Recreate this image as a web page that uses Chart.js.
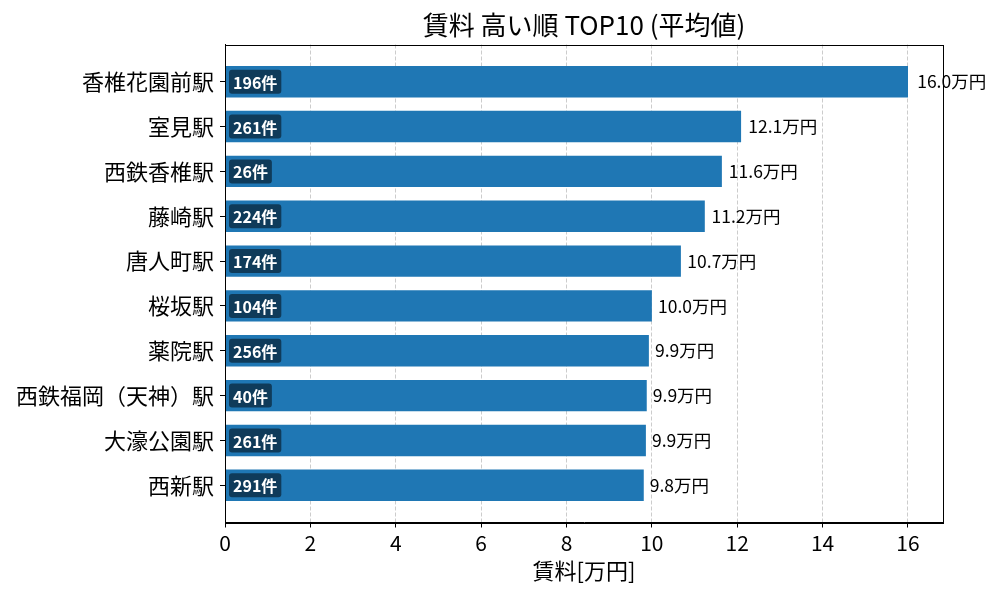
<!DOCTYPE html>
<html>
<head>
<meta charset="utf-8">
<script src="https://cdn.jsdelivr.net/npm/chart.js@4.4.1/dist/chart.umd.min.js"></script>
<style>
  body { margin: 0; background: #fff; }
  #wrap { width: 1000px; height: 600px; }
</style>
</head>
<body>
<div id="wrap"><canvas id="chartRent"></canvas></div>
<script>
var stations = ['香椎花園前駅', '室見駅', '西鉄香椎駅', '藤崎駅', '唐人町駅', '桜坂駅', '薬院駅', '西鉄福岡（天神）駅', '大濠公園駅', '西新駅'];
var rents  = [16.0, 12.09, 11.64, 11.24, 10.68, 10.0, 9.93, 9.88, 9.86, 9.81];
var counts = [196, 261, 26, 224, 174, 104, 256, 40, 261, 291];
var xTicks = [0, 2, 4, 6, 8, 10, 12, 14, 16];
var chartTitle = '賃料 高い順 TOP10 (平均値)';

Chart.defaults.font.family = '"Noto Sans CJK JP", "Noto Sans", sans-serif';
Chart.defaults.color = '#000';

var points = [];
for (var i in rents) {
  points.push({x: rents[i], y: Number(i)});
}

// title over the plot, frame round it, labels on the bars
var barLabels = {
  id: 'barLabels',
  afterDatasetsDraw: function(chart) {
    var ctx = chart.ctx;
    var xs = chart.scales.x;
    var bars = chart.getDatasetMeta(0).data;
    ctx.save();
    for (var i = 0; i < bars.length; i++) {
      var b = bars[i];
      // value label outside
      ctx.font = '17.5px "Noto Sans CJK JP"';
      ctx.fillStyle = '#000';
      ctx.textAlign = 'left';
      ctx.textBaseline = 'middle';
      ctx.fillText(rents[i].toFixed(1) + '万円', xs.getPixelForValue(rents[i] * 1.012) + 1, b.y);
      // count badge inside
      var txt = counts[i] + '件';
      ctx.font = 'bold 16px "Noto Sans CJK JP"';
      var w = ctx.measureText(txt).width + 8;
      var left = xs.getPixelForValue(0) + 4;
      ctx.fillStyle = 'rgba(0,0,0,0.5)';
      ctx.beginPath();
      ctx.roundRect(left, b.y - 12, w, 24, 3);
      ctx.fill();
      ctx.fillStyle = '#fff';
      ctx.fillText(txt, left + 4, b.y + 1);
    }
    ctx.restore();
  },
  afterDraw: function(chart) {
    var a = chart.chartArea;
    var ctx = chart.ctx;
    ctx.save();
    ctx.strokeStyle = '#000';
    ctx.lineWidth = 1;
    ctx.strokeRect(Math.round(a.left) + 0.5, Math.round(a.top) + 0.5, Math.round(a.right - a.left), Math.round(a.bottom - a.top));
    ctx.font = '26px "Noto Sans CJK JP"';
    ctx.fillStyle = '#000';
    ctx.textAlign = 'center';
    ctx.textBaseline = 'middle';
    ctx.fillText(chartTitle, (a.left + a.right) / 2, 25);
    ctx.restore();
  }
};

var cxt = document.getElementById('chartRent');
var barGraph = new Chart(cxt, {
  type: 'bar',
  data: {
    datasets: [{
      label: '賃料',
      data: points,
      backgroundColor: '#1f77b4',
      borderWidth: 0,
      categoryPercentage: 1,
      barPercentage: 0.7
    }]
  },
  options: {
    indexAxis: 'y',
    responsive: true,
    maintainAspectRatio: false,
    animation: false,
    layout: { padding: { left: 0, right: 57, top: 44.5, bottom: 0 } },
    plugins: {
      legend: { display: false },
      tooltip: { enabled: false },
      title: { display: false }
    },
    scales: {
      x: {
        type: 'linear',
        min: 0,
        max: 16.82,
        afterFit: function(s) { s.height = 77.5; },
        afterBuildTicks: function(s) { s.ticks = xTicks.map(function(v) { return {value: v}; }); },
        ticks: { font: { size: 21 }, padding: 3, color: '#000' },
        grid: {
          color: '#cccccc',
          lineWidth: 1,
          drawTicks: true,
          tickLength: 5,
          tickColor: '#000',
          tickBorderDash: []
        },
        border: { display: true, color: '#000', width: 1, dash: [4, 2] },
        title: {
          display: true,
          text: '賃料[万円]',
          font: { size: 22 },
          color: '#000',
          padding: { top: 4, bottom: 16 }
        }
      },
      y: {
        type: 'linear',
        offset: false,
        min: -0.83,
        max: 9.83,
        reverse: true,
        afterFit: function(s) { s.width = 225; },
        afterBuildTicks: function(s) { s.ticks = stations.map(function(n, i) { return {value: i}; }); },
        ticks: {
          autoSkip: false,
          font: { size: 22 },
          padding: 6,
          color: '#000',
          callback: function(v) { return stations[v]; }
        },
        grid: {
          offset: false,
          drawOnChartArea: false,
          drawTicks: true,
          tickLength: 5,
          tickColor: '#000'
        },
        border: { display: true, color: '#000', width: 1 }
      }
    }
  },
  plugins: [barLabels]
});
</script>
</body>
</html>
